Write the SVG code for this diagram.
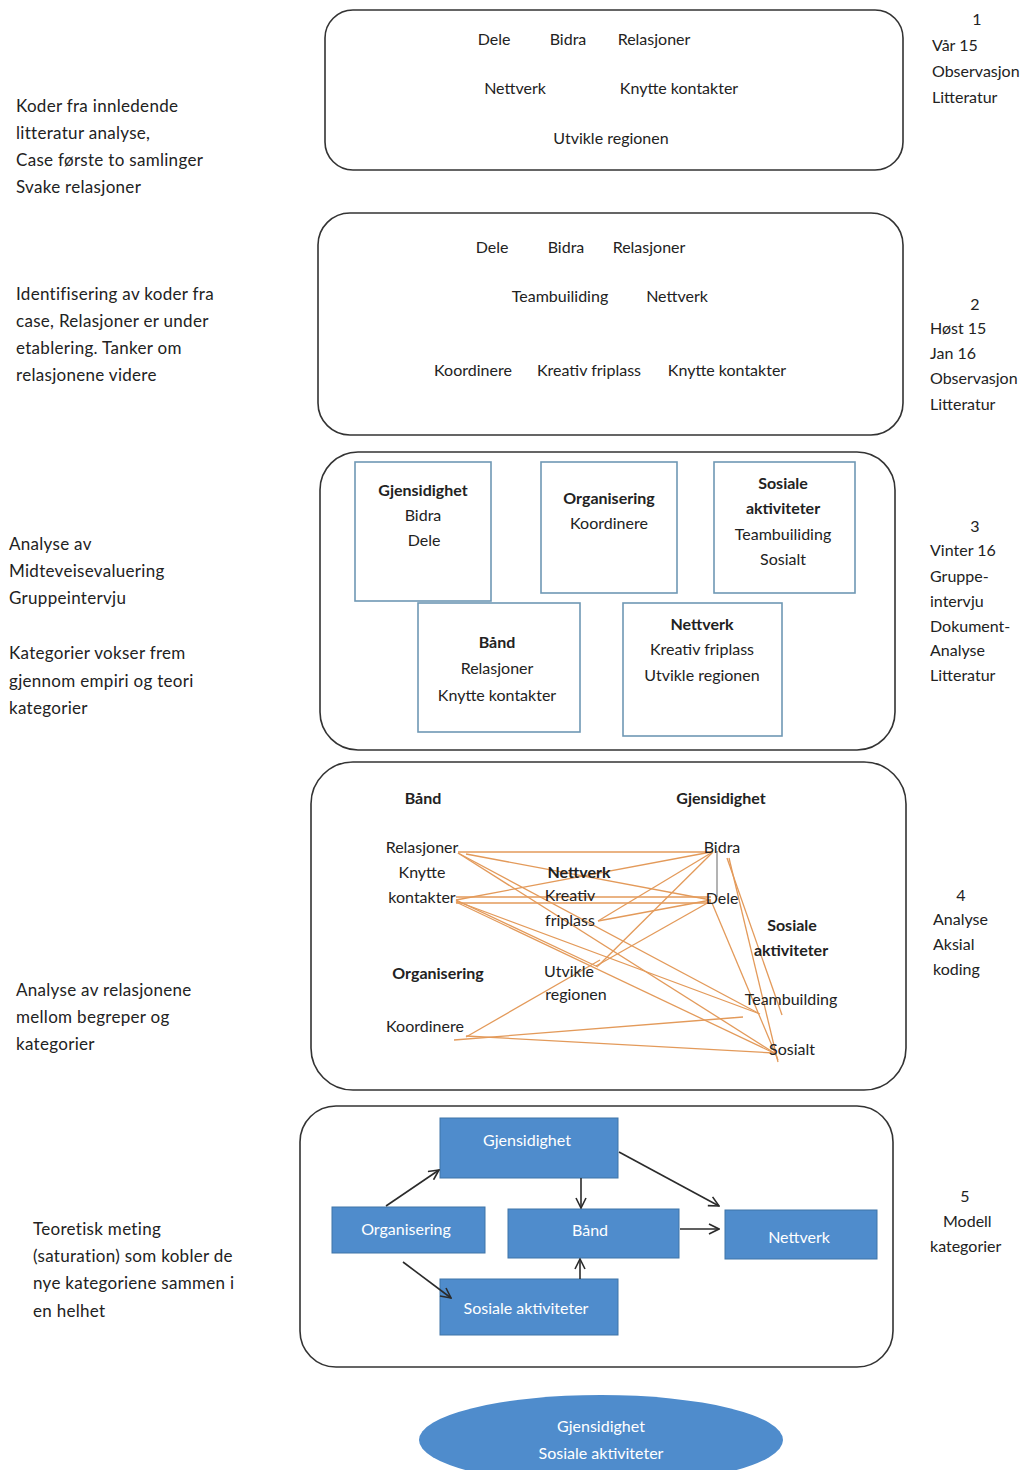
<svg xmlns="http://www.w3.org/2000/svg" width="1026" height="1470" viewBox="0 0 1026 1470">
  <style>
    text { font-family: Lato, "Open Sans", "Liberation Sans", sans-serif; font-size: 16px; fill: #222; dominant-baseline: central; }
    .c { text-anchor: middle; }
    .b { font-weight: bold; }
    .w { fill: #ffffff; }
    .note { font-size: 17px; letter-spacing: 0.3px; }
    .stage { fill: #ffffff; stroke: #333333; stroke-width: 1.6; }
    .cat { fill: #ffffff; stroke: #6f98b5; stroke-width: 1.6; }
    .blue { fill: #4f8ccc; stroke: #3f74a8; stroke-width: 1; }
    .rel line { stroke: #e39a5a; stroke-width: 1.3; }
    .arr { stroke: #2b2b2b; stroke-width: 1.6; fill: none; marker-end: url(#open); }
  </style>
  <defs>
    <marker id="open" viewBox="0 0 12 12" refX="11" refY="6" markerWidth="12" markerHeight="12" markerUnits="userSpaceOnUse" orient="auto">
      <path d="M1,1 L11,6 L1,11" fill="none" stroke="#2b2b2b" stroke-width="1.6"/>
    </marker>
  </defs>
  <rect width="1026" height="1470" fill="#ffffff"/>

  <!-- left-hand descriptions -->
  <g id="notes-left" class="note">
    <text class="note" x="16" y="105">Koder fra innledende</text>
    <text class="note" x="16" y="132">litteratur analyse,</text>
    <text class="note" x="16" y="159">Case første to samlinger</text>
    <text class="note" x="16" y="186">Svake relasjoner</text>

    <text class="note" x="16" y="293">Identifisering av koder fra</text>
    <text class="note" x="16" y="320">case, Relasjoner er under</text>
    <text class="note" x="16" y="347">etablering. Tanker om</text>
    <text class="note" x="16" y="374">relasjonene videre</text>

    <text class="note" x="9" y="543">Analyse av</text>
    <text class="note" x="9" y="570">Midteveisevaluering</text>
    <text class="note" x="9" y="597">Gruppeintervju</text>
    <text class="note" x="9" y="652">Kategorier vokser frem</text>
    <text class="note" x="9" y="680">gjennom empiri og teori</text>
    <text class="note" x="9" y="707">kategorier</text>

    <text class="note" x="16" y="989">Analyse av relasjonene</text>
    <text class="note" x="16" y="1016">mellom begreper og</text>
    <text class="note" x="16" y="1043">kategorier</text>

    <text class="note" x="33" y="1228">Teoretisk meting</text>
    <text class="note" x="33" y="1255">(saturation) som kobler de</text>
    <text class="note" x="33" y="1282">nye kategoriene sammen i</text>
    <text class="note" x="33" y="1310">en helhet</text>
  </g>

  <!-- right-hand stage labels -->
  <g id="notes-right">
    <text class="c" x="977" y="18">1</text>
    <text x="932" y="44">Vår 15</text>
    <text x="932" y="70">Observasjon</text>
    <text x="932" y="96">Litteratur</text>

    <text class="c" x="975" y="303">2</text>
    <text x="930" y="327">Høst 15</text>
    <text x="930" y="352">Jan 16</text>
    <text x="930" y="377">Observasjon</text>
    <text x="930" y="403">Litteratur</text>

    <text class="c" x="975" y="525">3</text>
    <text x="930" y="549">Vinter 16</text>
    <text x="930" y="575">Gruppe-</text>
    <text x="930" y="600">intervju</text>
    <text x="930" y="625">Dokument-</text>
    <text x="930" y="649">Analyse</text>
    <text x="930" y="674">Litteratur</text>

    <text class="c" x="961" y="894">4</text>
    <text x="933" y="918">Analyse</text>
    <text x="933" y="943">Aksial</text>
    <text x="933" y="968">koding</text>

    <text class="c" x="965" y="1195">5</text>
    <text x="943" y="1220">Modell</text>
    <text x="930" y="1245">kategorier</text>
  </g>

  <!-- stage 1: initial codes -->
  <g id="stage1">
    <rect class="stage" x="325" y="10" width="578" height="160" rx="28"/>
    <text class="c" x="494" y="38">Dele</text>
    <text class="c" x="568" y="38">Bidra</text>
    <text class="c" x="654" y="38">Relasjoner</text>
    <text class="c" x="515" y="87">Nettverk</text>
    <text class="c" x="679" y="87">Knytte kontakter</text>
    <text class="c" x="611" y="137">Utvikle regionen</text>
  </g>

  <!-- stage 2: codes from case -->
  <g id="stage2">
    <rect class="stage" x="318" y="213" width="585" height="222" rx="32"/>
    <text class="c" x="492" y="246">Dele</text>
    <text class="c" x="566" y="246">Bidra</text>
    <text class="c" x="649" y="246">Relasjoner</text>
    <text class="c" x="560" y="295">Teambuiliding</text>
    <text class="c" x="677" y="295">Nettverk</text>
    <text class="c" x="473" y="369">Koordinere</text>
    <text class="c" x="589" y="369">Kreativ friplass</text>
    <text class="c" x="727" y="369">Knytte kontakter</text>
  </g>

  <!-- stage 3: categories -->
  <g id="stage3">
    <rect class="stage" x="320" y="452" width="575" height="298" rx="38"/>
    <g id="cat-gjensidighet">
      <rect class="cat" x="355" y="462" width="136" height="139"/>
      <text class="c b" x="423" y="489">Gjensidighet</text>
      <text class="c" x="423" y="514">Bidra</text>
      <text class="c" x="424" y="539">Dele</text>
    </g>
    <g id="cat-organisering">
      <rect class="cat" x="541" y="462" width="136" height="131"/>
      <text class="c b" x="609" y="497">Organisering</text>
      <text class="c" x="609" y="522">Koordinere</text>
    </g>
    <g id="cat-sosiale">
      <rect class="cat" x="714" y="462" width="141" height="131"/>
      <text class="c b" x="783" y="482">Sosiale</text>
      <text class="c b" x="783" y="507">aktiviteter</text>
      <text class="c" x="783" y="533">Teambuiliding</text>
      <text class="c" x="783" y="558">Sosialt</text>
    </g>
    <g id="cat-band">
      <rect class="cat" x="418" y="603" width="162" height="129"/>
      <text class="c b" x="497" y="641">Bånd</text>
      <text class="c" x="497" y="667">Relasjoner</text>
      <text class="c" x="497" y="694">Knytte kontakter</text>
    </g>
    <g id="cat-nettverk">
      <rect class="cat" x="623" y="603" width="159" height="133"/>
      <text class="c b" x="702" y="623">Nettverk</text>
      <text class="c" x="702" y="648">Kreativ friplass</text>
      <text class="c" x="702" y="674">Utvikle regionen</text>
    </g>
  </g>

  <!-- stage 4: axial coding -->
  <g id="stage4">
    <rect class="stage" x="311" y="762" width="595" height="328" rx="42"/>
  </g>

  <!-- relations between codes -->
  <g id="relations" class="rel">
    <line x1="458" y1="852" x2="713" y2="852"/>
    <line x1="466" y1="854" x2="711" y2="900"/>
    <line x1="458" y1="853" x2="758" y2="1013"/>
    <line x1="458" y1="853" x2="776" y2="1054"/>
    <line x1="456" y1="900" x2="711" y2="852"/>
    <line x1="456" y1="897" x2="711" y2="897"/>
    <line x1="456" y1="903" x2="711" y2="903"/>
    <line x1="456" y1="900" x2="598" y2="967"/>
    <line x1="456" y1="901" x2="760" y2="1014"/>
    <line x1="456" y1="902" x2="776" y2="1054"/>
    <line x1="598" y1="921" x2="711" y2="853"/>
    <line x1="598" y1="921" x2="711" y2="900"/>
    <line x1="598" y1="966" x2="713" y2="852"/>
    <line x1="596" y1="966" x2="711" y2="901"/>
    <line x1="466" y1="1037" x2="600" y2="960"/>
    <line x1="454" y1="1040" x2="743" y2="1017"/>
    <line x1="466" y1="1036" x2="774" y2="1053"/>
    <line x1="712" y1="903" x2="778" y2="1060"/>
    <line x1="727" y1="858" x2="782" y2="1015"/>
    <line x1="729" y1="858" x2="778" y2="1062"/>
    <line x1="717" y1="851" x2="717" y2="897" style="stroke:#8a8a8a"/>
  </g>

  <g id="stage4-labels">
    <text class="c b" x="423" y="797">Bånd</text>
    <text class="c b" x="721" y="797">Gjensidighet</text>
    <text class="c" x="422" y="846">Relasjoner</text>
    <text class="c" x="422" y="871">Knytte</text>
    <text class="c" x="422" y="896">kontakter</text>
    <text class="c b" x="579" y="871">Nettverk</text>
    <text class="c" x="570" y="894">Kreativ</text>
    <text class="c" x="570" y="919">friplass</text>
    <text class="c b" x="438" y="972">Organisering</text>
    <text class="c" x="569" y="970">Utvikle</text>
    <text class="c" x="576" y="993">regionen</text>
    <text class="c" x="425" y="1025">Koordinere</text>
    <text class="c" x="722" y="846">Bidra</text>
    <text class="c" x="722" y="897">Dele</text>
    <text class="c b" x="792" y="924">Sosiale</text>
    <text class="c b" x="791" y="949">aktiviteter</text>
    <text class="c" x="791" y="998">Teambuilding</text>
    <text class="c" x="792" y="1048">Sosialt</text>
  </g>

  <!-- stage 5: model -->
  <g id="stage5">
    <rect class="stage" x="300" y="1106" width="593" height="261" rx="36"/>
  </g>

  <g id="m-gjensidighet">
    <rect class="blue" x="440" y="1118" width="178" height="60"/>
    <text class="c w" x="527" y="1139">Gjensidighet</text>
  </g>
  <g id="m-organisering">
    <rect class="blue" x="332" y="1207" width="153" height="46"/>
    <text class="c w" x="406" y="1228">Organisering</text>
  </g>
  <g id="m-band">
    <rect class="blue" x="508" y="1209" width="171" height="49"/>
    <text class="c w" x="590" y="1229">Bånd</text>
  </g>
  <g id="m-nettverk">
    <rect class="blue" x="725" y="1210" width="152" height="49"/>
    <text class="c w" x="799" y="1236">Nettverk</text>
  </g>
  <g id="m-sosiale">
    <rect class="blue" x="440" y="1279" width="178" height="56"/>
    <text class="c w" x="526" y="1307">Sosiale aktiviteter</text>
  </g>

  <!-- model arrows, drawn over the boxes -->
  <g id="model-arrows">
    <line class="arr" x1="386" y1="1206" x2="439" y2="1170"/>
    <line class="arr" x1="403" y1="1262" x2="451" y2="1298"/>
    <line class="arr" x1="581" y1="1178" x2="581" y2="1208"/>
    <line class="arr" x1="580" y1="1279" x2="580" y2="1259"/>
    <line class="arr" x1="619" y1="1152" x2="719" y2="1206"/>
    <line class="arr" x1="680" y1="1229" x2="719" y2="1229"/>
  </g>

  <!-- core category -->
  <g id="core">
    <ellipse cx="601" cy="1440" rx="182" ry="45" fill="#4f8ccc"/>
    <text class="c w" x="601" y="1425">Gjensidighet</text>
    <text class="c w" x="601" y="1452">Sosiale aktiviteter</text>
  </g>
</svg>
